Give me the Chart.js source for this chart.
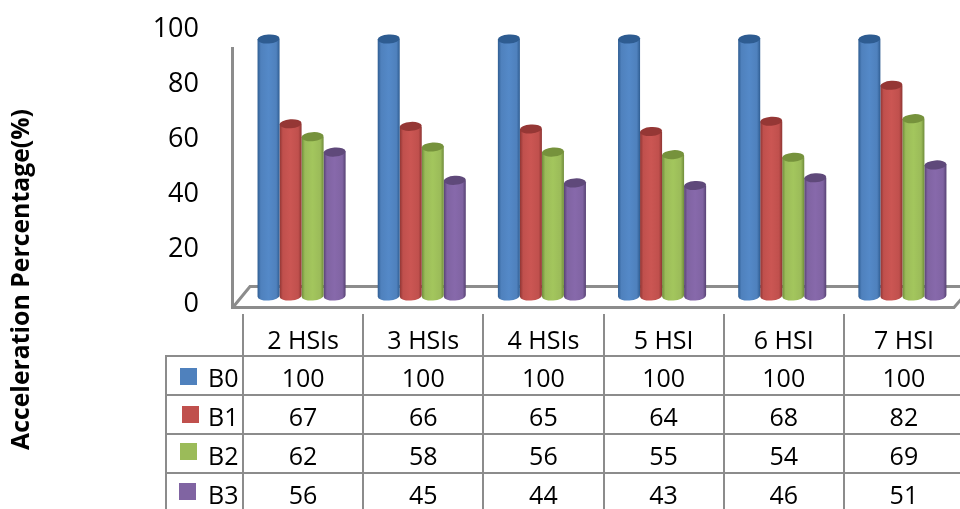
<!DOCTYPE html>
<html>
<head>
<meta charset="utf-8">
<title>Acceleration Percentage</title>
<style>
  html, body { margin: 0; background: #fff; overflow: hidden; }
  canvas { display: block; }
</style>
<script src="https://cdn.jsdelivr.net/npm/chart.js@4"></script>
</head>
<body>
<canvas id="accelChart" width="964" height="509"></canvas>
<script>
const categories = ["2 HSIs", "3 HSIs", "4 HSIs", "5 HSI", "6 HSI", "7 HSI"];
const seriesNames = ["B0", "B1", "B2", "B3"];
const b0 = [100, 100, 100, 100, 100, 100];
const b1 = [67, 66, 65, 64, 68, 82];
const b2 = [62, 58, 56, 55, 54, 69];
const b3 = [56, 45, 44, 43, 46, 51];
const yTicks = [0, 20, 40, 60, 80, 100];

const FONT = '"Open Sans", "Noto Sans", sans-serif';
const GREY = "#8c8c8c";

// body, dark edge, top cap, highlight
const palette = [
  ["#4f81bd", "#2f5d92", "#2e5c91", "#5489c8"],
  ["#c0504d", "#8f3533", "#953735", "#cb5653"],
  ["#9bbb59", "#6f8c3a", "#76923c", "#a3c65d"],
  ["#8064a2", "#574273", "#5f497a", "#8769ab"],
];

function shade(ctx, x, w, colors) {
  const g = ctx.createLinearGradient(x, 0, x + w, 0);
  g.addColorStop(0, colors[1]);
  g.addColorStop(0.15, colors[0]);
  g.addColorStop(0.5, colors[3]);
  g.addColorStop(0.85, colors[0]);
  g.addColorStop(1, colors[1]);
  return g;
}

// draws each bar element as a small cylinder
const cylinders = {
  id: "cylinders",
  beforeDatasetDraw(chart, args) {
    const ctx = chart.ctx;
    const colors = palette[args.index];
    ctx.save();
    args.meta.data.forEach((bar) => {
      const w = bar.width;
      const cx = bar.x - 1.5; // floor perspective pulls the bars slightly left
      const left = cx - w / 2;
      const tilt = -0.07;
      ctx.fillStyle = shade(ctx, left, w, colors);
      ctx.beginPath();
      ctx.moveTo(left, bar.y);
      ctx.lineTo(left, bar.base);
      ctx.ellipse(cx, bar.base, w / 2, 4.5, tilt, Math.PI, 0, true);
      ctx.lineTo(left + w, bar.y);
      ctx.closePath();
      ctx.fill();
      ctx.fillStyle = colors[2];
      ctx.beginPath();
      ctx.ellipse(cx, bar.y, w / 2, 4.5, tilt, 0, Math.PI * 2);
      ctx.fill();
    });
    ctx.restore();
    return false;
  },
};

// wall line and floor behind the bars
const floor = {
  id: "floor",
  beforeDatasetsDraw(chart) {
    const ctx = chart.ctx;
    ctx.save();
    ctx.strokeStyle = GREY;
    ctx.lineWidth = 3;
    ctx.beginPath();
    ctx.moveTo(232.5, 47);
    ctx.lineTo(232.5, 307.5);
    ctx.lineTo(954, 307.5);
    ctx.lineTo(964, 296);
    ctx.moveTo(234, 306);
    ctx.lineTo(250, 286.5);
    ctx.lineTo(964, 286.5);
    ctx.stroke();
    ctx.restore();
  },
};

// data table under the axis, plus the rotated axis title
const dataTable = {
  id: "dataTable",
  afterDraw(chart) {
    const ctx = chart.ctx;
    const x = chart.scales.x;
    const rows = [b0, b1, b2, b3];
    const lines = [356, 395, 434, 473];
    const rowMid = [380, 419, 458, 497];
    const swatchX = [180, 182, 180, 179];
    const swatchY = [368, 406, 443, 483];
    const cellW = x.getPixelForValue(1) - x.getPixelForValue(0);
    const tableLeft = x.getPixelForValue(0) - cellW / 2;

    ctx.save();
    ctx.strokeStyle = GREY;
    ctx.lineWidth = 2;
    ctx.beginPath();
    categories.forEach((c, i) => {
      ctx.moveTo(Math.round(tableLeft + i * cellW), 314);
      ctx.lineTo(Math.round(tableLeft + i * cellW), 509);
    });
    ctx.moveTo(166, 356);
    ctx.lineTo(166, 509);
    lines.forEach((y) => {
      ctx.moveTo(165, y);
      ctx.lineTo(964, y);
    });
    ctx.stroke();

    ctx.fillStyle = "#000";
    ctx.textBaseline = "middle";
    ctx.font = "25px " + FONT;
    rows.forEach((values, r) => {
      ctx.textAlign = "center";
      values.forEach((v, i) => {
        ctx.fillText(String(v), x.getPixelForValue(i), rowMid[r]);
      });
      ctx.textAlign = "left";
      ctx.fillText(seriesNames[r], 208, rowMid[r]);
    });
    palette.forEach((p, r) => {
      ctx.fillStyle = p[0];
      ctx.fillRect(swatchX[r], swatchY[r], 17, 17);
    });

    ctx.translate(22, 279.5);
    ctx.rotate(-Math.PI / 2);
    ctx.textAlign = "center";
    ctx.fillStyle = "#000";
    ctx.font = "bold 24.8px " + FONT;
    ctx.fillText("Acceleration Percentage(%)", 0, 0);
    ctx.restore();
  },
};

function makeDataset(label, data, i) {
  return {
    label: label,
    data: data,
    yAxisID: "yBars",
    backgroundColor: palette[i][0],
    categoryPercentage: 0.733,
    barPercentage: 1,
  };
}

new Chart(document.getElementById("accelChart"), {
  type: "bar",
  data: {
    labels: categories,
    datasets: [
      makeDataset(seriesNames[0], b0, 0),
      makeDataset(seriesNames[1], b1, 1),
      makeDataset(seriesNames[2], b2, 2),
      makeDataset(seriesNames[3], b3, 3),
    ],
  },
  options: {
    responsive: false,
    animation: false,
    layout: { padding: { top: 29, left: 0, right: 0, bottom: 0 } },
    plugins: { legend: { display: false }, tooltip: { enabled: false } },
    scales: {
      x: {
        grid: { display: false, drawTicks: false },
        border: { display: false },
        afterFit: (s) => { s.height = 205; },
        ticks: {
          padding: 23,
          maxRotation: 0,
          autoSkip: false,
          color: "#000",
          font: { family: FONT, size: 25 },
        },
      },
      y: {
        min: 0,
        max: 100,
        grid: { display: false, drawTicks: false },
        border: { display: false },
        afterFit: (s) => {
          s.width = 243;
          s.paddingTop = 0;
          s.paddingBottom = 0;
        },
        afterBuildTicks: (s) => { s.ticks = yTicks.map((v) => ({ value: v })); },
        ticks: {
          padding: 44,
          color: "#000",
          font: { family: FONT, size: 27 },
        },
      },
      // bars stand on the floor, which sits inside the labelled range
      yBars: { display: false, min: -3.11, max: 103.89 },
    },
  },
  plugins: [floor, cylinders, dataTable],
});
</script>
</body>
</html>
